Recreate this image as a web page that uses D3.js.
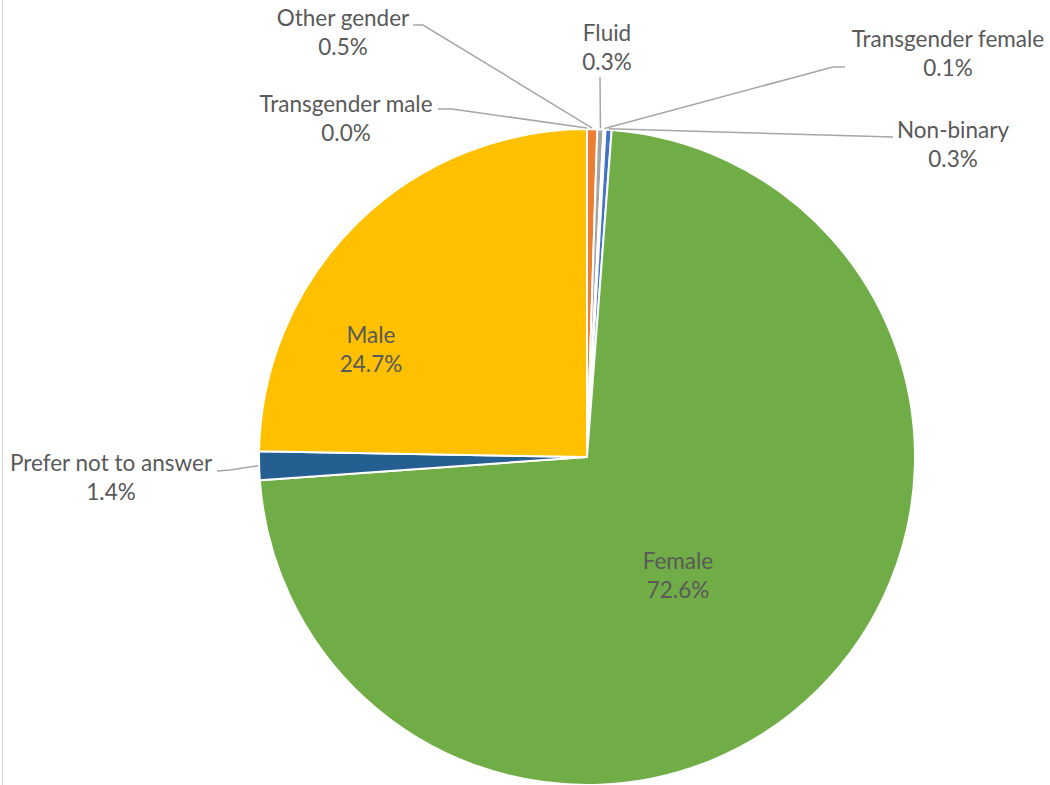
<!DOCTYPE html>
<html>
<head>
<meta charset="utf-8">
<script src="https://cdn.jsdelivr.net/npm/d3@7"></script>
<style>
  html, body { margin: 0; padding: 0; background: #fff; }
  svg { display: block; }
  text { font-family: Lato, "Open Sans", sans-serif; fill: #595959; }
</style>
</head>
<body>
<svg id="chart" width="1050" height="785"></svg>
<script>
// ---- data ----
const categories = ["Transgender male", "Other gender", "Fluid", "Transgender female", "Non-binary", "Female", "Prefer not to answer", "Male"];
const values = [0.0, 0.5, 0.3, 0.1, 0.3, 72.6, 1.4, 24.7];
const colors = ["#9E480E", "#ED7D31", "#A5A5A5", "#5B9BD5", "#4472C4", "#70AD47", "#255E91", "#FFC000"];

// ---- layout (label placement) ----
const labelPos = [
  {x: 346, y: 104, line: [[438, 109], [452, 109]]},
  {x: 343, y: 18,  line: [[413, 25], [423, 25]]},
  {x: 607, y: 33,  line: [[600, 77]]},
  {x: 948, y: 39,  line: [[845, 67], [833, 67]]},
  {x: 953, y: 130, line: [[893, 137]]},
  {x: 678, y: 561, line: null},
  {x: 111, y: 463, line: [[217, 471], [230, 470]]},
  {x: 371, y: 335, line: null}
];

const W = 1050, H = 785;
const cx = 587, cy = 457, R = 328;
const svg = d3.select("#chart");

// left chart border
svg.append("line").attr("x1", 2.5).attr("x2", 2.5).attr("y1", 0).attr("y2", H)
  .attr("stroke", "#d9d9d9").attr("stroke-width", 1);

const pie = d3.pie().sort(null).value(d => d).startAngle(0).endAngle(2 * Math.PI);
const arcs = pie(values);
const arc = d3.arc().innerRadius(0).outerRadius(R);

const g = svg.append("g").attr("transform", `translate(${cx},${cy})`);
g.selectAll("path.slice").data(arcs).enter().append("path")
  .attr("class", "slice")
  .attr("d", arc)
  .attr("fill", (d, i) => colors[i])
  .attr("stroke", "#fff").attr("stroke-width", 2).attr("stroke-linejoin", "round");

// leader lines
const line = d3.line();
arcs.forEach((d, i) => {
  const lp = labelPos[i];
  if (!lp.line) return;
  const a = (d.startAngle + d.endAngle) / 2;
  const px = cx + (R + 1) * Math.sin(a), py = cy - (R + 1) * Math.cos(a);
  const pts = lp.line.concat([[px, py]]);
  svg.append("path").attr("d", line(pts)).attr("fill", "none")
    .attr("stroke", "#a6a6a6").attr("stroke-width", 1.5);
});

// labels
const fs = 22.5;
arcs.forEach((d, i) => {
  const lp = labelPos[i];
  const t = svg.append("text").attr("text-anchor", "middle").attr("font-size", fs);
  t.append("tspan").attr("x", lp.x).attr("y", lp.y).attr("dy", "0.35em").text(categories[i]);
  t.append("tspan").attr("x", lp.x).attr("y", lp.y + 29).attr("dy", "0.35em").text(values[i].toFixed(1) + "%");
});
</script>
</body>
</html>
